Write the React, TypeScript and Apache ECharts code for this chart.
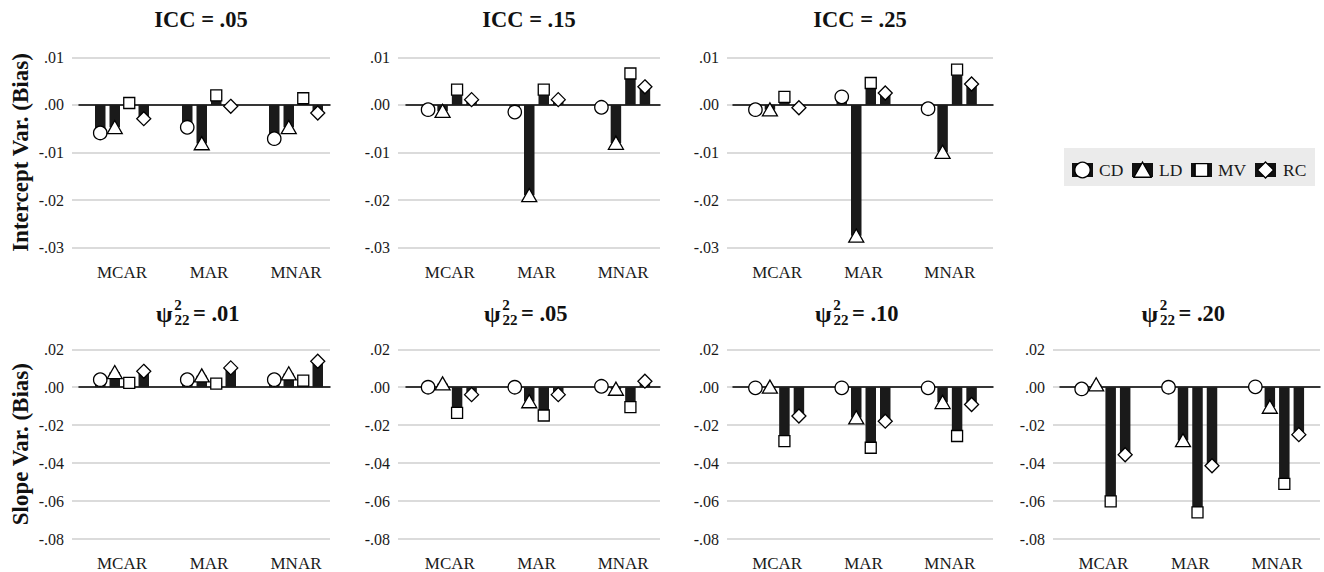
import React, { useEffect, useRef } from 'react';
import * as echarts from 'echarts';

const categories = ['MCAR', 'MAR', 'MNAR'];
const methods = ['CD', 'LD', 'MV', 'RC'];

// Intercept variance bias: rows CD, LD, MV, RC; columns MCAR, MAR, MNAR
const icc05 = [
  [-0.0059, -0.0047, -0.0071],
  [-0.0047, -0.0081, -0.0047],
  [0.0004, 0.002, 0.0014],
  [-0.0029, -0.0003, -0.0017],
];
const icc15 = [
  [-0.001, -0.0015, -0.0005],
  [-0.0013, -0.019, -0.008],
  [0.0032, 0.0032, 0.0066],
  [0.0011, 0.0011, 0.0038],
];
const icc25 = [
  [-0.001, 0.0017, -0.0008],
  [-0.001, -0.0275, -0.0099],
  [0.0017, 0.0046, 0.0074],
  [-0.0006, 0.0025, 0.0044],
];
// Slope variance bias
const psi01 = [
  [0.004, 0.004, 0.004],
  [0.0079, 0.0061, 0.0072],
  [0.0023, 0.0019, 0.0035],
  [0.0084, 0.0102, 0.0137],
];
const psi05 = [
  [0.0, 0.0, 0.0005],
  [0.0019, -0.0075, -0.0009],
  [-0.0135, -0.0149, -0.0105],
  [-0.0039, -0.0039, 0.0032],
];
const psi10 = [
  [-0.0003, -0.0003, -0.0003],
  [0.0002, -0.016, -0.0079],
  [-0.0284, -0.0319, -0.0257],
  [-0.0152, -0.0179, -0.0091],
];
const psi20 = [
  [-0.0009, 0.0, 0.0002],
  [0.0014, -0.028, -0.0104],
  [-0.0602, -0.066, -0.0509],
  [-0.0356, -0.0414, -0.025],
];

const interceptLabels = ['.05', '.15', '.25'];
const slopeLabels = ['.01', '.05', '.10', '.20'];
const interceptRange = [-0.03, 0.01];
const interceptStep = 0.01;
const slopeRange = [-0.08, 0.02];
const slopeStep = 0.02;

// layout
const FONT = 'Liberation Serif';
const colA = [[72, 330], [398, 660], [727, 993], [1053, 1320]];
const colB = [[78.5, 339.5], [406.5, 666.5], [734, 993], [1060, 1320.5]];
const colC = [[79, 330], [406, 660], [733, 993], [1060, 1320]];
const rowY = [[57.3, 247.7], [349.3, 539]];
const BW = 10.5;
const STEP = 14.5;

const fmt = (v: number) => {
  const x = Math.abs(v) < 1e-9 ? 0 : v;
  return x.toFixed(2).replace(/^(-?)0\./, '$1.');
};

const mStyle = { fill: '#fff', stroke: '#000', lineWidth: 1.3 };

function marker(m: number, x: number, y: number, s = 1): any {
  if (m === 0) return { type: 'circle', shape: { cx: x, cy: y, r: 6.7 * s }, style: mStyle };
  if (m === 1)
    return {
      type: 'polygon',
      shape: { points: [[x, y - 6.8 * s], [x - 7.5 * s, y + 6.3 * s], [x + 7.5 * s, y + 6.3 * s]] },
      style: mStyle,
    };
  if (m === 2)
    return { type: 'rect', shape: { x: x - 5.5 * s, y: y - 5.5 * s, width: 11 * s, height: 11 * s }, style: mStyle };
  return {
    type: 'polygon',
    shape: { points: [[x, y - 7 * s], [x + 7 * s, y], [x, y + 7 * s], [x - 7 * s, y]] },
    style: mStyle,
  };
}

const makeRender = (m: number) => (params: any, api: any) => {
  const ci = api.value(0);
  const v = api.value(1);
  const p0 = api.coord([ci, 0]);
  const p1 = api.coord([ci, v]);
  const x = p0[0] + (m - 1.5) * STEP;
  const yTop = Math.min(p0[1], p1[1]);
  const h = Math.abs(p1[1] - p0[1]);
  return {
    type: 'group',
    children: [
      { type: 'rect', shape: { x: x - BW / 2, y: yTop, width: BW, height: h }, style: { fill: '#1a1a1a' } },
      marker(m, x, p1[1]),
    ],
  };
};

function buildOption() {
  const panels: any[] = [
    { row: 0, col: 0, data: icc05, label: interceptLabels[0] },
    { row: 0, col: 1, data: icc15, label: interceptLabels[1] },
    { row: 0, col: 2, data: icc25, label: interceptLabels[2] },
    { row: 1, col: 0, data: psi01, label: slopeLabels[0] },
    { row: 1, col: 1, data: psi05, label: slopeLabels[1] },
    { row: 1, col: 2, data: psi10, label: slopeLabels[2] },
    { row: 1, col: 3, data: psi20, label: slopeLabels[3] },
  ];
  const grid: any[] = [];
  const xAxis: any[] = [];
  const yAxis: any[] = [];
  const series: any[] = [];
  const graphic: any[] = [];

  panels.forEach((p, k) => {
    const [y0, y1] = rowY[p.row];
    const range = p.row === 0 ? interceptRange : slopeRange;
    const step = p.row === 0 ? interceptStep : slopeStep;
    const A = colA[p.col];
    const B = colB[p.col];
    const C = colC[p.col];
    const gA = 3 * k;
    const gB = 3 * k + 1;
    const gC = 3 * k + 2;
    grid.push({ left: A[0], top: y0, width: A[1] - A[0], height: y1 - y0 });
    grid.push({ left: B[0], top: y0, width: B[1] - B[0], height: y1 - y0 });
    grid.push({ left: C[0], top: y0, width: C[1] - C[0], height: y1 - y0 });
    // grid A: gridlines and tick labels
    xAxis.push({ type: 'category', gridIndex: gA, data: categories, show: false });
    yAxis.push({
      type: 'value',
      gridIndex: gA,
      min: range[0],
      max: range[1],
      interval: step,
      axisLine: { show: false },
      axisTick: { show: false },
      axisLabel: { formatter: fmt, fontFamily: FONT, fontSize: 16, color: '#1a1a1a', margin: 8 },
      splitLine: { show: true, lineStyle: { color: '#cfcfcf', width: 1.5 } },
    });
    // grid B: categories and data
    xAxis.push({
      type: 'category',
      gridIndex: gB,
      data: categories,
      axisLine: { show: false, onZero: false },
      axisTick: { show: false },
      axisLabel: { fontFamily: FONT, fontSize: 17, color: '#1a1a1a', margin: 16 },
      splitLine: { show: false },
    });
    yAxis.push({ type: 'value', gridIndex: gB, min: range[0], max: range[1], interval: step, show: false, splitLine: { show: false } });
    // grid C: zero line
    xAxis.push({
      type: 'category',
      gridIndex: gC,
      data: [''],
      axisLine: { show: true, onZero: true, lineStyle: { color: '#000', width: 1.5 } },
      axisTick: { show: false },
      axisLabel: { show: false },
      splitLine: { show: false },
    });
    yAxis.push({ type: 'value', gridIndex: gC, min: range[0], max: range[1], interval: step, show: false, splitLine: { show: false } });

    methods.forEach((name, m) => {
      series.push({
        type: 'custom',
        name,
        xAxisIndex: gB,
        yAxisIndex: gB,
        renderItem: makeRender(m),
        encode: { x: 0, y: 1 },
        data: categories.map((c, i) => [i, p.data[m][i]]),
        z: 2 + m,
      });
    });

    const cx = (A[0] + A[1]) / 2;
    const tStyle = { fontFamily: FONT, fontWeight: 'bold', fill: '#111' };
    if (p.row === 0) {
      graphic.push({
        type: 'text',
        x: cx,
        y: 19,
        style: { ...tStyle, text: 'ICC = ' + p.label, fontSize: 22.5, align: 'center', verticalAlign: 'middle' },
      });
    } else {
      const ty = 313;
      const px = cx - 45;
      graphic.push({ type: 'text', x: px, y: ty + 1, style: { ...tStyle, text: 'ψ', fontSize: 24, align: 'left', verticalAlign: 'middle' } });
      graphic.push({ type: 'text', x: px + 22, y: ty - 8, style: { ...tStyle, text: '2', fontSize: 15, align: 'center', verticalAlign: 'middle' } });
      graphic.push({ type: 'text', x: px + 26, y: ty + 7, style: { ...tStyle, text: '22', fontSize: 15, align: 'center', verticalAlign: 'middle' } });
      graphic.push({ type: 'text', x: px + 37, y: ty, style: { ...tStyle, text: '= ' + p.label, fontSize: 22.5, align: 'left', verticalAlign: 'middle' } });
    }
  });

  // Y axis names
  graphic.push({
    type: 'text',
    x: 20,
    y: (rowY[0][0] + rowY[0][1]) / 2,
    rotation: Math.PI / 2,
    style: { text: 'Intercept Var. (Bias)', fontFamily: FONT, fontWeight: 'bold', fontSize: 23, fill: '#111', align: 'center', verticalAlign: 'middle' },
  });
  graphic.push({
    type: 'text',
    x: 20,
    y: (rowY[1][0] + rowY[1][1]) / 2,
    rotation: Math.PI / 2,
    style: { text: 'Slope Var. (Bias)', fontFamily: FONT, fontWeight: 'bold', fontSize: 23, fill: '#111', align: 'center', verticalAlign: 'middle' },
  });

  // Legend
  graphic.push({ type: 'rect', shape: { x: 1064, y: 148, width: 251, height: 38 }, style: { fill: '#ebebeb' } });
  const iconX = [1072, 1132, 1191, 1255];
  const textX = [1099, 1159, 1218, 1283];
  methods.forEach((name, m) => {
    const ix = iconX[m];
    graphic.push({ type: 'rect', shape: { x: ix, y: 163, width: 21, height: 14 }, style: { fill: '#111' } });
    graphic.push(marker(m, ix + 10.5, 170, 1.15));
    graphic.push({
      type: 'text',
      x: textX[m],
      y: 170,
      style: { text: name, fontFamily: FONT, fontSize: 17.5, fill: '#1a1a1a', align: 'left', verticalAlign: 'middle' },
    });
  });

  return { animation: false, backgroundColor: '#fff', grid, xAxis, yAxis, series, graphic };
}

export default function App() {
  const ref = useRef<HTMLDivElement>(null);
  useEffect(() => {
    if (!ref.current) return;
    const chart = echarts.init(ref.current, undefined, { renderer: 'svg' });
    chart.setOption(buildOption() as any);
    return () => chart.dispose();
  }, []);
  return <div ref={ref} style={{ position: 'fixed', left: 0, top: 0, width: 1324, height: 572 }} />;
}
